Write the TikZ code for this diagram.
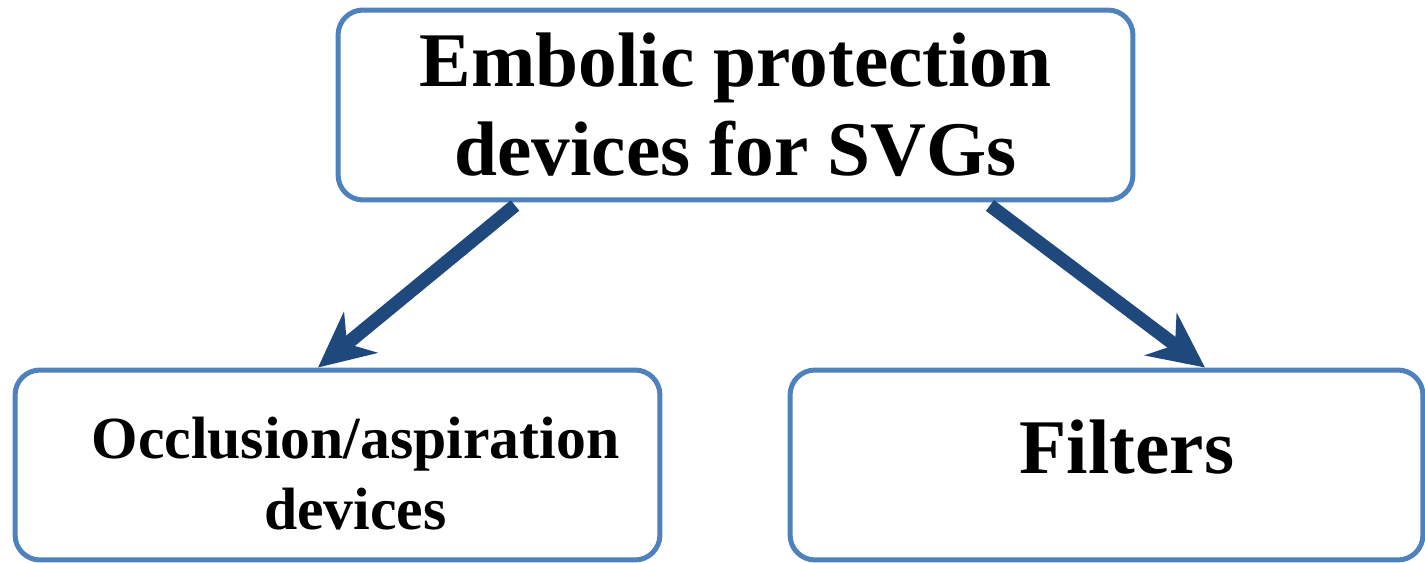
\documentclass[tikz,border=0pt]{standalone}
\usepackage{fontspec}
\setmainfont{Liberation Serif}
\usetikzlibrary{arrows.meta}
\definecolor{boxblue}{RGB}{79,129,189}
\definecolor{arrowblue}{RGB}{31,73,125}

\begin{document}
\begin{tikzpicture}[x=0.02cm, y=-0.02cm,
    devbox/.style={draw=boxblue, line width=0.1cm, rectangle, rounded corners=0.5cm, minimum height=3.8cm, fill=white},
    bigtext/.style={font=\fontsize{44}{50.6}\selectfont\bfseries, align=center},
    smalltext/.style={font=\fontsize{34}{40.5}\selectfont\bfseries, align=center},
    bigarrow/.style={draw=arrowblue, line width=0.27cm, -{Stealth[length=1.1cm, width=1.05cm, inset=0.35cm]}}]
    \useasboundingbox (0,0) rectangle (1425,563);

    \node[devbox, bigtext, minimum width=15.9cm] (embolic) at (735.5,105) {Embolic protection\\devices for SVGs};
    \node[devbox, minimum width=12.9cm] (occl) at (337.5,465) {};
    \node[devbox, minimum width=12.66cm] (filt) at (1106.5,465) {};

    \node[smalltext] (occltext) at ([xshift=0.36cm, yshift=-0.17cm]occl.center) {Occlusion/aspiration\\devices};
    \node[bigtext] (filttext) at ([xshift=0.41cm, yshift=0.35cm]filt.center) {Filters};

    \draw[bigarrow] ([xshift=-4.41cm, yshift=-0.06cm]embolic.south) -- ([xshift=-0.39cm]occl.north);
    \draw[bigarrow] ([xshift=5.09cm, yshift=-0.06cm]embolic.south) -- ([xshift=1.97cm]filt.north);
\end{tikzpicture}
\end{document}
